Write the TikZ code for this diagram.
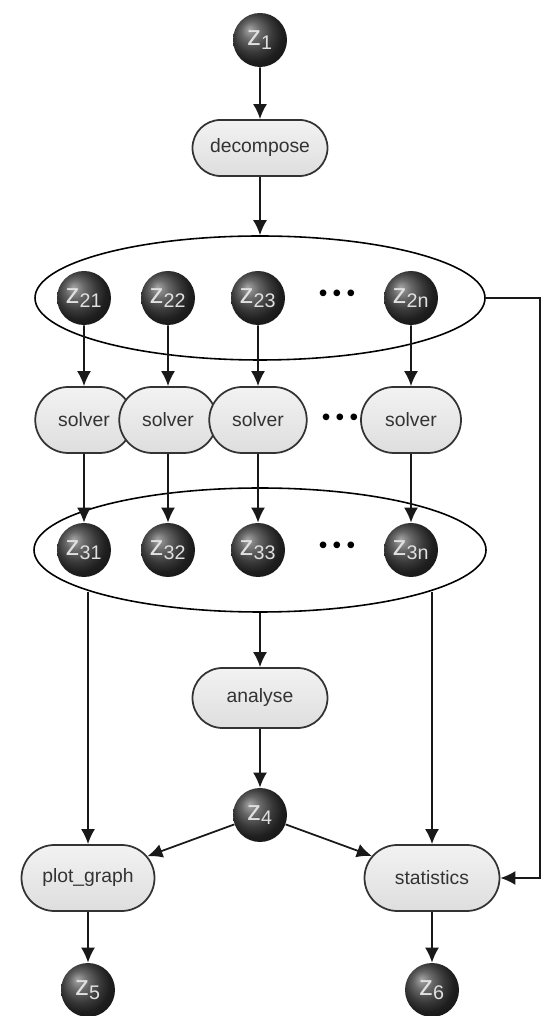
\documentclass[tikz,border=0pt]{standalone}
\usepackage{fontspec}
\setmainfont{Liberation Sans}
\usetikzlibrary{arrows.meta}
\usetikzlibrary{shapes.geometric}
\usetikzlibrary{shapes.misc}
\pgfdeclareradialshading{zball}{\pgfpoint{-10bp}{10bp}}{color(0bp)=(black!35); color(9bp)=(black!60); color(18bp)=(black!78); color(25bp)=(black!88); color(50bp)=(black)}
\tikzset{ball/.style = {circle, shading = zball, minimum size = 1.08cm, inner sep = 0, text = black!12, font = \fontsize{16}{16}\selectfont}}
\tikzset{proc/.style = {rounded rectangle, draw = black!80, line width = 1pt, top color = black!5, bottom color = black!13, text = black!80, minimum width = 2.7cm, minimum height = 1.3cm, inner sep = 0, font = \fontsize{11}{11}\selectfont}}
\tikzset{grp/.style = {ellipse, draw, line width = 0.9pt, inner sep = 0}}
\tikzset{arr/.style = {-{Latex[length = 3mm, width = 2.8mm]}, line width = 1pt, black!90}}
\tikzset{dots/.style = {font = \fontsize{14}{14}\selectfont}}

\begin{document}
\begin{tikzpicture}
    \useasboundingbox (0, 0) rectangle (10.82, 20.32);
    % input and decomposition
    \node[ball] (z1) at (5.2, 19.52) {z\textsubscript{1}};
    \node[proc, minimum height = 1.12cm] (dec) at (5.2, 17.36) {decompose};
    % first group
    \node[grp, minimum width = 9cm, minimum height = 2.48cm] (g2) at (5.2, 14.36) {};
    \node[ball] (z21) at (1.68, 14.36) {z\textsubscript{21}};
    \node[ball] (z22) at (3.36, 14.36) {z\textsubscript{22}};
    \node[ball] (z23) at (5.16, 14.36) {z\textsubscript{23}};
    \node[dots] (d2) at (6.74, 14.4) {\textbullet\hspace{3pt}\textbullet\hspace{3pt}\textbullet};
    \node[ball] (z2n) at (8.22, 14.36) {z\textsubscript{2n}};
    % solvers
    \node[proc, minimum width = 1.95cm, minimum height = 1.32cm] (s1) at (1.68, 11.92) {solver};
    \node[proc, minimum width = 1.95cm, minimum height = 1.32cm] (s2) at (3.36, 11.92) {solver};
    \node[proc, minimum width = 1.95cm, minimum height = 1.32cm] (s3) at (5.16, 11.92) {solver};
    \node[dots] (ds) at (6.8, 11.92) {\textbullet\hspace{3pt}\textbullet\hspace{3pt}\textbullet};
    \node[proc, minimum width = 2cm, minimum height = 1.32cm] (sn) at (8.22, 11.92) {solver};
    % second group
    \node[grp, minimum width = 9.04cm, minimum height = 2.48cm] (g3) at (5.2, 9.32) {};
    \node[ball] (z31) at (1.68, 9.32) {z\textsubscript{31}};
    \node[ball] (z32) at (3.36, 9.32) {z\textsubscript{32}};
    \node[ball] (z33) at (5.16, 9.32) {z\textsubscript{33}};
    \node[dots] (d3) at (6.74, 9.36) {\textbullet\hspace{3pt}\textbullet\hspace{3pt}\textbullet};
    \node[ball] (z3n) at (8.22, 9.32) {z\textsubscript{3n}};
    % analysis and outputs
    \node[proc, minimum height = 1.2cm] (ana) at (5.2, 6.36) {analyse};
    \node[ball] (z4) at (5.2, 4.02) {z\textsubscript{4}};
    \node[proc, minimum width = 2.66cm, minimum height = 1.32cm] (plot) at (1.76, 2.76) {plot\_graph};
    \node[proc, minimum height = 1.32cm] (stat) at (8.64, 2.76) {statistics};
    \node[ball] (z5) at (1.76, 0.52) {z\textsubscript{5}};
    \node[ball] (z6) at (8.64, 0.52) {z\textsubscript{6}};
    \coordinate (fb) at (10.8, 2.76);

    \draw[arr] (z1) -- (dec);
    \draw[arr] (dec) -- (g2);
    \foreach \i in {1, 2, 3, n} {
      \draw[arr] (z2\i) -- (s\i);
      \draw[arr] (s\i) -- (z3\i);
    }
    \draw[arr] (g3) -- (ana);
    \draw[arr] (ana) -- (z4);
    \draw[arr] (z4) -- (plot);
    \draw[arr] (z4) -- (stat);
    \draw[arr] (plot.north |- g3.194) -- (plot);
    \draw[arr] (stat.north |- g3.346) -- (stat);
    \draw[arr] (plot) -- (z5);
    \draw[arr] (stat) -- (z6);
    \draw[arr] (g2.east) -| (fb) -- (stat);
\end{tikzpicture}
\end{document}
